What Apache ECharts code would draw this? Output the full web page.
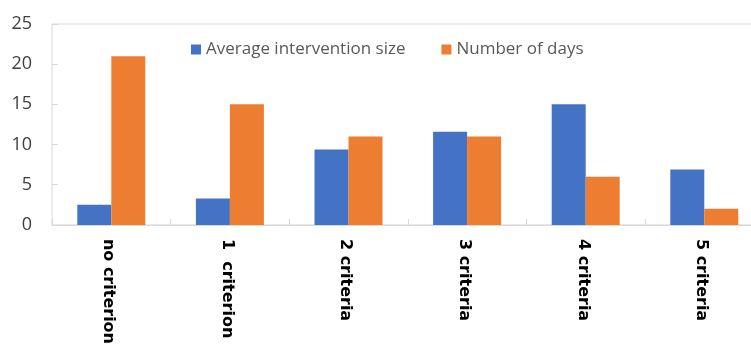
<!DOCTYPE html>
<html>
<head>
<meta charset="utf-8">
<script src="https://cdn.jsdelivr.net/npm/echarts@6/dist/echarts.min.js"></script>
<style>
  html, body { margin: 0; padding: 0; background: #ffffff; overflow: hidden; }
  /* the plot area runs past the right edge of the window, so the canvas is wider than the view */
  #chart { width: 780px; height: 347px; }
</style>
</head>
<body>
<div id="chart"></div>
<script>
// Criteria groups along the x axis
const categories = ['no criterion', '1  criterion', '2 criteria', '3 criteria', '4 criteria', '5 criteria'];

// Series values
const avgInterventionSize = [2.5, 3.3, 9.4, 11.6, 15, 6.9];
const numberOfDays = [21, 15, 11, 11, 6, 2];

// Series names shown in the legend
const seriesNames = ['Average intervention size', 'Number of days'];

// Value axis range
const yMin = 0;
const yMax = 25;
const yStep = 5;

const chart = echarts.init(document.getElementById('chart'), null, { renderer: 'canvas' });

chart.setOption({
  animation: false,
  backgroundColor: '#ffffff',
  color: ['#4472C4', '#ED7D31'],
  grid: {
    left: 52,
    top: 24,
    width: 711.6,
    height: 202,
    containLabel: false,
    show: true,
    borderColor: '#d9d9d9',
    borderWidth: 1
  },
  legend: {
    left: 191,
    top: 41,
    padding: 0,
    icon: 'rect',
    itemWidth: 10,
    itemHeight: 10,
    itemGap: 36,
    textStyle: {
      fontFamily: 'Open Sans',
      fontSize: 17,
      color: '#595959'
    },
    data: seriesNames
  },
  xAxis: {
    type: 'category',
    data: categories,
    boundaryGap: true,
    axisLine: { show: true, lineStyle: { color: '#d9d9d9', width: 1 } },
    axisTick: { show: true, inside: true, length: 6, lineStyle: { color: '#d9d9d9' } },
    axisLabel: {
      interval: 0,
      rotate: -90,
      margin: 14,
      verticalAlign: 'top',
      lineHeight: 6,
      fontFamily: 'DejaVu Sans',
      fontWeight: 'bold',
      fontSize: 16,
      color: '#000000'
    },
    splitLine: { show: false }
  },
  yAxis: {
    type: 'value',
    min: yMin,
    max: yMax,
    interval: yStep,
    axisLine: { show: false },
    axisTick: { show: true, inside: true, length: 6, lineStyle: { color: '#d9d9d9' } },
    axisLabel: {
      margin: 20,
      fontFamily: 'Open Sans',
      fontSize: 18,
      color: '#404040'
    },
    splitLine: { show: false }
  },
  series: [
    {
      name: seriesNames[0],
      type: 'bar',
      data: avgInterventionSize,
      barWidth: 34,
      barGap: '0%'
    },
    {
      name: seriesNames[1],
      type: 'bar',
      data: numberOfDays,
      barWidth: 34,
      barGap: '0%'
    }
  ]
});
</script>
</body>
</html>
